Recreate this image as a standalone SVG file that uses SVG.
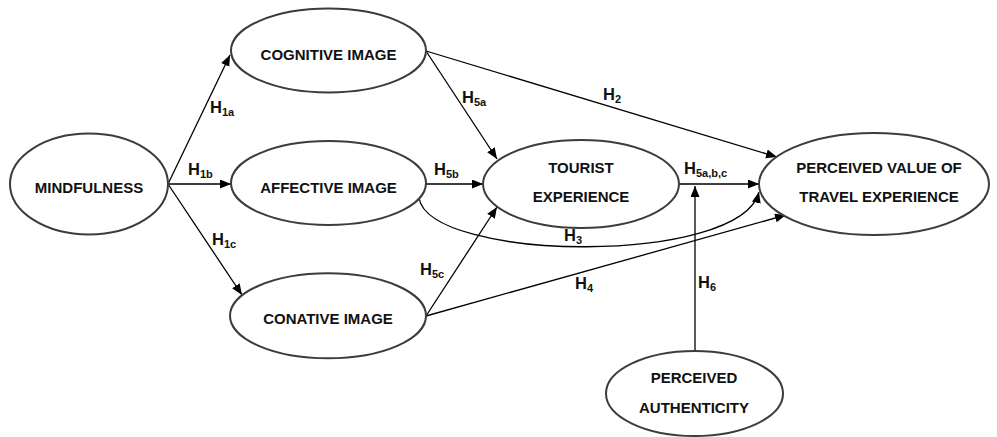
<svg xmlns="http://www.w3.org/2000/svg" width="997" height="437" viewBox="0 0 997 437">
<style>
.n{fill:#fff;stroke:#3c3c3c;stroke-width:2}
.t{font-family:"Liberation Sans",Arial,sans-serif;font-weight:bold;font-size:15px;fill:#111;text-anchor:middle}
.c{fill:none;stroke:#000;stroke-width:1.3;marker-end:url(#ah)}
.h{font-family:"Liberation Sans",Arial,sans-serif;font-weight:bold;font-size:16.5px;fill:#111}
.s{font-size:11px}
</style>
<defs>
<marker id="ah" markerUnits="userSpaceOnUse" markerWidth="12" markerHeight="10" refX="11" refY="4.5" orient="auto">
<path d="M0,0 L11,4.5 L0,9 z" fill="#000"/>
</marker>
</defs>
<rect width="997" height="437" fill="#fff"/>
<g id="connectors">
<line class="c" x1="168" y1="184" x2="230" y2="55"/>
<line class="c" x1="168" y1="184" x2="231" y2="184"/>
<line class="c" x1="168" y1="184" x2="242" y2="295"/>
<line class="c" x1="426" y1="51" x2="497" y2="159"/>
<line class="c" x1="426" y1="184" x2="483" y2="184"/>
<line class="c" x1="426" y1="316" x2="497" y2="207"/>
<line class="c" x1="426" y1="51" x2="777" y2="157"/>
<line class="c" x1="426" y1="316" x2="786" y2="215"/>
<path class="c" d="M419,198 C430,262 740,266 759,192"/>
<line class="c" x1="679" y1="184" x2="759" y2="184"/>
<line class="c" x1="695" y1="351" x2="695" y2="186"/>
<text class="h" x="210" y="113">H<tspan class="s" dy="3">1a</tspan></text>
<text class="h" x="188" y="175">H<tspan class="s" dy="3">1b</tspan></text>
<text class="h" x="212" y="245">H<tspan class="s" dy="3">1c</tspan></text>
<text class="h" x="462" y="103">H<tspan class="s" dy="3">5a</tspan></text>
<text class="h" x="434" y="175">H<tspan class="s" dy="3">5b</tspan></text>
<text class="h" x="420" y="275">H<tspan class="s" dy="3">5c</tspan></text>
<text class="h" x="603" y="100">H<tspan class="s" dy="3">2</tspan></text>
<text class="h" x="564" y="241">H<tspan class="s" dy="3">3</tspan></text>
<text class="h" x="575" y="289">H<tspan class="s" dy="3">4</tspan></text>
<text class="h" x="684" y="174">H<tspan class="s" dy="2.5">5a,b,c</tspan></text>
<text class="h" x="698" y="288">H<tspan class="s" dy="3">6</tspan></text>
</g>
<g id="mindfulness">
<ellipse class="n" cx="89" cy="184" rx="79" ry="50.5"/>
<text class="t" x="89" y="193">MINDFULNESS</text>
</g>
<g id="cognitive">
<ellipse class="n" cx="328.5" cy="50.5" rx="97.5" ry="42"/>
<text class="t" x="328.5" y="60">COGNITIVE IMAGE</text>
</g>
<g id="affective">
<ellipse class="n" cx="328.5" cy="183" rx="97.5" ry="42"/>
<text class="t" x="328.5" y="193">AFFECTIVE IMAGE</text>
</g>
<g id="conative">
<ellipse class="n" cx="328" cy="315.8" rx="98" ry="42.5"/>
<text class="t" x="328" y="324">CONATIVE IMAGE</text>
</g>
<g id="tourist">
<ellipse class="n" cx="581" cy="184" rx="98" ry="44"/>
<text class="t" x="581" y="173">TOURIST</text>
<text class="t" x="581" y="202">EXPERIENCE</text>
</g>
<g id="perceived-value">
<ellipse class="n" cx="874" cy="184" rx="115" ry="51"/>
<text class="t" x="879" y="173">PERCEIVED VALUE OF</text>
<text class="t" x="879" y="202">TRAVEL EXPERIENCE</text>
</g>
<g id="authenticity">
<ellipse class="n" cx="694.5" cy="393.5" rx="88.5" ry="42.5"/>
<text class="t" x="694" y="383">PERCEIVED</text>
<text class="t" x="694" y="413">AUTHENTICITY</text>
</g>
</svg>
